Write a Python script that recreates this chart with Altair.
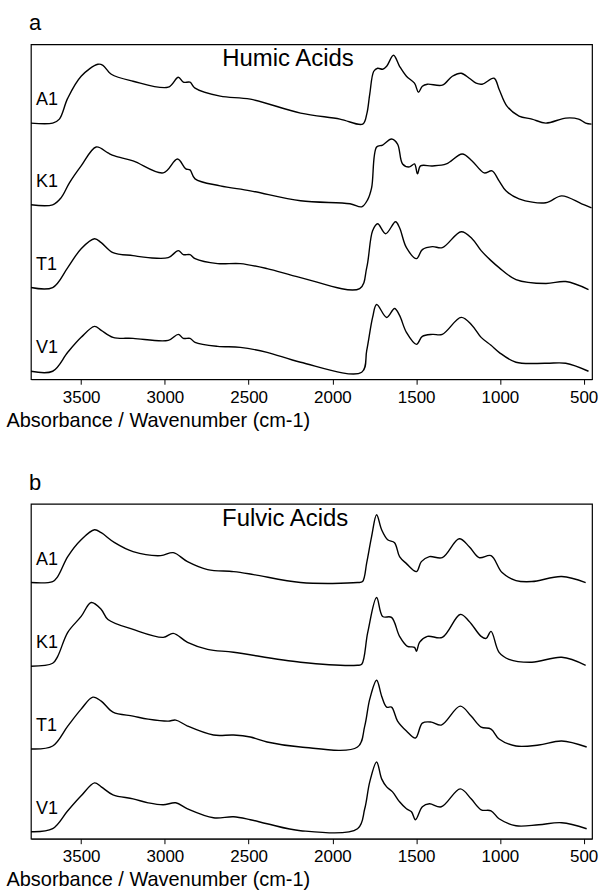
import altair as alt
import pandas as pd

FONT = "Liberation Sans"

SAMPLES = ["A1", "K1", "T1", "V1"]
X_TICKS = [3500, 3000, 2500, 2000, 1500, 1000, 500]
X_DOMAIN = [450, 3800]
Y_DOMAIN = [0, 3.36]

# vertical stacking offsets of the spectra (arbitrary absorbance units)
HA_OFFSETS = [2.57, 1.75, 0.92, 0.08]
FA_OFFSETS = [2.57, 1.73, 0.90, 0.07]
LABEL_LIFT = 0.23
LABEL_WN = 3770

# Humic acids: (wavenumber cm-1, relative absorbance)
HA_A1 = [(3800, 0), (3670, 0), (3630, .04), (3580, .25), (3500, .47), (3400, .59), (3370, .58),
         (3320, .49), (3190, .42), (2980, .36), (2920, .46), (2890, .41), (2850, .41), (2820, .35),
         (2670, .27), (2490, .24), (2190, .10), (1955, .04), (1819, -.01), (1795, .09), (1777, .29),
         (1753, .52), (1730, .55), (1700, .54), (1676, .57), (1635, .68), (1599, .57), (1558, .47),
         (1510, .40), (1486, .31), (1463, .37), (1433, .39), (1344, .38), (1284, .47), (1231, .50),
         (1183, .45), (1142, .40), (1106, .39), (1035, .45), (1005, .34), (958, .17), (886, .07),
         (809, .04), (726, 0), (607, .05), (530, .04), (488, 0), (453, -.01)]
HA_K1 = [(3800, 0), (3670, 0), (3620, .07), (3570, .22), (3500, .39), (3410, .58), (3340, .52),
         (3300, .49), (3190, .44), (3010, .32), (2925, .46), (2875, .36), (2850, .35), (2820, .26),
         (2670, .19), (2490, .14), (2190, .04), (1895, .01), (1825, -.02), (1790, .05), (1766, .17),
         (1736, .58), (1700, .60), (1647, .66), (1611, .61), (1581, .41), (1540, .38), (1510, .41),
         (1492, .31), (1474, .39), (1403, .39), (1320, .41), (1225, .51), (1166, .44), (1094, .32),
         (1047, .34), (1005, .24), (964, .14), (886, .06), (726, .02), (631, .09), (512, .01),
         (453, -.03)]
HA_T1 = [(3800, 0), (3670, 0), (3580, .20), (3500, .39), (3420, .49), (3380, .45), (3310, .35),
         (3190, .32), (3100, .30), (2980, .30), (2920, .37), (2890, .33), (2850, .33), (2820, .29),
         (2685, .24), (2550, .24), (2390, .19), (2190, .10), (1837, -.01), (1795, .20), (1760, .57),
         (1730, .64), (1682, .54), (1623, .66), (1599, .60), (1558, .40), (1498, .29), (1463, .38),
         (1403, .41), (1344, .40), (1231, .56), (1166, .49), (1112, .37), (1053, .27), (1005, .20),
         (904, .08), (726, .04), (607, .06), (471, -.02)]
HA_V1 = [(3800, 0), (3670, 0), (3580, .19), (3500, .34), (3420, .45), (3380, .41), (3310, .34),
         (3190, .33), (2980, .31), (2920, .37), (2890, .33), (2850, .33), (2820, .29), (2685, .25),
         (2550, .24), (2390, .19), (2190, .09), (1825, -.01), (1795, .21), (1760, .54), (1736, .67),
         (1676, .54), (1629, .63), (1599, .56), (1558, .39), (1498, .27), (1463, .35), (1403, .37),
         (1344, .37), (1231, .54), (1166, .46), (1112, .34), (1053, .26), (1005, .19), (904, .09),
         (726, .08), (607, .08), (471, 0)]

# Fulvic acids
FA_A1 = [(3800, 0), (3670, .01), (3640, .06), (3580, .26), (3500, .43), (3420, .53), (3380, .50),
         (3300, .40), (3190, .31), (3025, .27), (2950, .30), (2865, .21), (2745, .13), (2590, .11),
         (2470, .08), (2190, 0), (1850, 0), (1820, .01), (1795, .20), (1766, .46), (1736, .68),
         (1706, .53), (1670, .43), (1629, .40), (1599, .26), (1558, .19), (1498, .11), (1469, .21),
         (1421, .26), (1344, .25), (1243, .44), (1183, .36), (1124, .25), (1053, .27), (987, .10),
         (904, .02), (809, .01), (631, .06), (488, 0)]
FA_K1 = [(3800, 0), (3670, .03), (3640, .10), (3580, .34), (3500, .50), (3440, .64), (3380, .57),
         (3340, .47), (3190, .37), (3010, .29), (2950, .33), (2865, .24), (2745, .17), (2590, .14),
         (2190, .04), (1850, .01), (1825, .02), (1789, .34), (1736, .69), (1700, .50), (1647, .49),
         (1599, .30), (1552, .20), (1510, .19), (1498, .15), (1480, .24), (1433, .30), (1344, .29),
         (1237, .52), (1183, .45), (1112, .30), (1082, .28), (1053, .35), (1005, .14), (946, .07),
         (809, .04), (631, .09), (488, .01)]
FA_T1 = [(3800, 0), (3670, .03), (3580, .23), (3500, .40), (3430, .52), (3380, .48), (3310, .37),
         (3190, .33), (3100, .30), (2980, .28), (2935, .29), (2865, .23), (2710, .14), (2590, .14),
         (2490, .12), (2390, .07), (2190, .02), (1850, .02), (1807, .23), (1777, .50), (1736, .69),
         (1706, .53), (1676, .42), (1647, .42), (1611, .28), (1558, .18), (1504, .11), (1463, .26),
         (1409, .27), (1350, .24), (1237, .43), (1172, .33), (1112, .22), (1053, .20), (1005, .10),
         (904, .03), (768, .04), (631, .08), (482, .02)]
FA_V1 = [(3800, 0), (3670, .03), (3580, .21), (3500, .36), (3420, .49), (3380, .45), (3310, .37),
         (3190, .33), (3100, .29), (3010, .27), (2935, .29), (2865, .23), (2710, .14), (2590, .15),
         (2490, .12), (2390, .08), (2190, .01), (1850, .03), (1807, .23), (1777, .50), (1736, .70),
         (1706, .53), (1676, .45), (1641, .40), (1599, .30), (1558, .23), (1528, .20), (1504, .12),
         (1463, .25), (1421, .28), (1350, .25), (1237, .43), (1172, .33), (1112, .22), (1053, .21),
         (1005, .13), (904, .06), (768, .07), (631, .09), (482, .03)]

HEADINGS = ["Humic Acids", "Fulvic Acids"]
HEADING_WN = [2265, 2282]
HEADING_Y = [3.21, 3.21]
LETTERS = ["a", "b"]


def panel(spectra, offsets, heading, heading_wn, heading_y, letter):
    rows = []
    for name, pts, off in zip(SAMPLES, spectra, offsets):
        for i, (wn, ab) in enumerate(pts):
            rows.append({"sample": name, "wn": wn, "y": ab + off, "i": i})
    df = pd.DataFrame(rows)
    lab = pd.DataFrame({"sample": SAMPLES, "wn": [LABEL_WN] * 4,
                        "y": [o + LABEL_LIFT for o in offsets]})
    head = pd.DataFrame({"t": [heading], "wn": [heading_wn], "y": [heading_y]})

    xsc = alt.Scale(domain=X_DOMAIN, reverse=True, nice=False, zero=False)
    ysc = alt.Scale(domain=Y_DOMAIN, nice=False, zero=False)
    xax = alt.Axis(values=X_TICKS, format="d", title="Absorbance / Wavenumber (cm-1)",
                   grid=False, labelFont=FONT, labelFontSize=17, labelColor="black",
                   tickColor="black", domainColor="black", tickSize=5, labelPadding=5,
                   titleFont=FONT, titleFontSize=20, titleFontWeight="normal",
                   titleColor="black", titleAnchor="start", titleAlign="left",
                   titleBaseline="top", titleX=-25, titleY=31, labelFlush=False)

    lines = alt.Chart(df).mark_line(color="black", strokeWidth=1.4,
                                    interpolate="catmull-rom", clip=True).encode(
        x=alt.X("wn:Q", scale=xsc, axis=xax),
        y=alt.Y("y:Q", scale=ysc, axis=None),
        detail="sample:N",
        order="i:Q",
    )
    labels = alt.Chart(lab).mark_text(align="left", baseline="middle", font=FONT,
                                      fontSize=18, color="black").encode(
        x=alt.X("wn:Q", scale=xsc), y=alt.Y("y:Q", scale=ysc), text="sample:N")
    heading_txt = alt.Chart(head).mark_text(align="center", baseline="middle", font=FONT,
                                            fontSize=24, color="black").encode(
        x=alt.X("wn:Q", scale=xsc), y=alt.Y("y:Q", scale=ysc), text="t:N")
    return alt.layer(lines, labels, heading_txt).properties(
        width=563, height=336,
        title=alt.TitleParams(letter, anchor="start", frame="group", font=FONT, fontSize=22,
                              fontWeight="normal", color="black", baseline="alphabetic",
                              offset=-8, dx=-2),
    )


pa = panel([HA_A1, HA_K1, HA_T1, HA_V1], HA_OFFSETS, HEADINGS[0], HEADING_WN[0], HEADING_Y[0], LETTERS[0])
pb = panel([FA_A1, FA_K1, FA_T1, FA_V1], FA_OFFSETS, HEADINGS[1], HEADING_WN[1], HEADING_Y[1], LETTERS[1])

chart = alt.vconcat(pa, pb, spacing=40).properties(
    padding={"left": 5, "top": 10, "right": 2, "bottom": 0},
    background="white",
).configure_view(stroke="black", strokeWidth=1.2)

chart.save("out.html", embed_options={"renderer": "svg", "actions": False})
